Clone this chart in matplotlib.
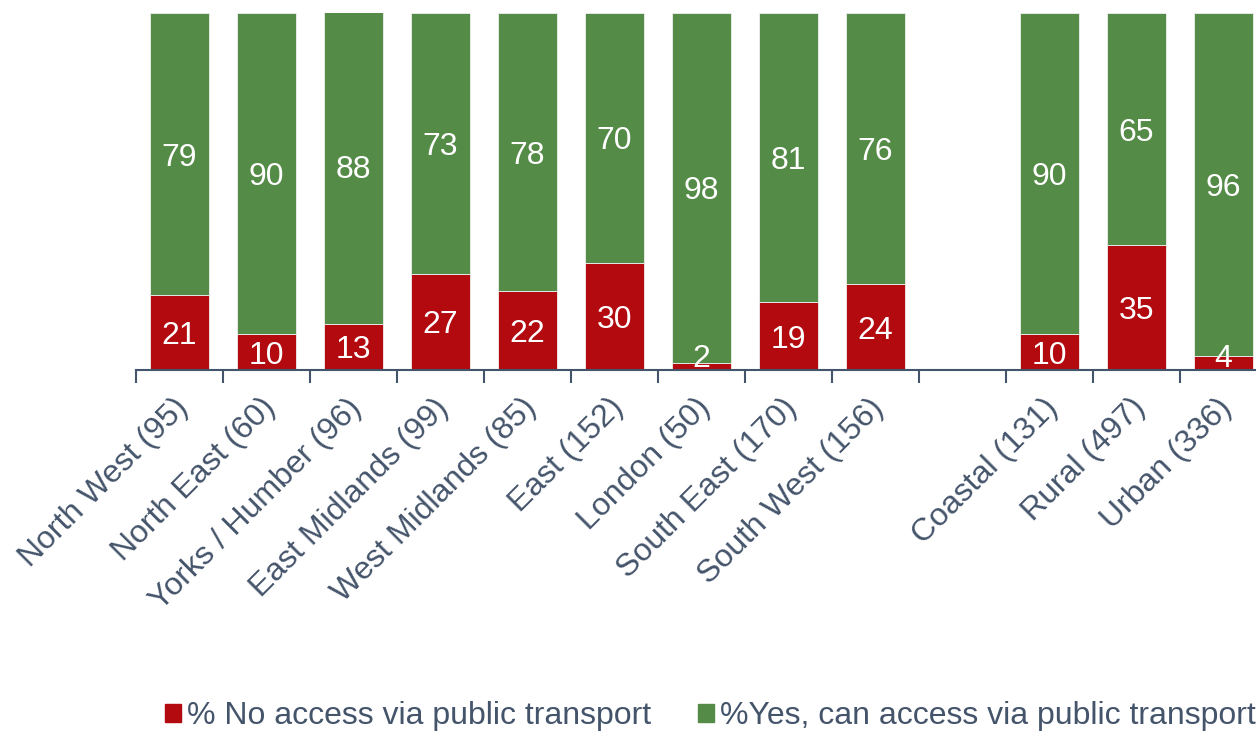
import matplotlib.pyplot as plt
import matplotlib.transforms as mtransforms
from matplotlib.patches import Patch

plt.rcParams['font.family'] = ['Liberation Sans', 'DejaVu Sans']

regions = ['North West (95)', 'North East (60)', 'Yorks / Humber (96)', 'East Midlands (99)',
           'West Midlands (85)', 'East (152)', 'London (50)', 'South East (170)',
           'South West (156)', '', 'Coastal (131)', 'Rural (497)', 'Urban (336)']
no_access = [21, 10, 13, 27, 22, 30, 2, 19, 24, None, 10, 35, 4]
yes_access = [79, 90, 88, 73, 78, 70, 98, 81, 76, None, 90, 65, 96]

red = '#B20A0F'
green = '#548B46'
text_col = '#44546A'
fs = 23

fig = plt.figure(figsize=(12.56, 7.32), dpi=100)
ax = fig.add_axes([136 / 1256, 362 / 732, 1131 / 1256, 357 / 732])

for i, (n, y) in enumerate(zip(no_access, yes_access)):
    if n is None:
        continue
    ax.bar(i, n, width=0.67, color=red, edgecolor='#f0f0f0', linewidth=0.6)
    ax.bar(i, y, bottom=n, width=0.67, color=green, edgecolor='#f0f0f0', linewidth=0.6)
    ax.text(i, max(n / 2, 4), str(n), color='white', fontsize=fs, ha='center', va='center_baseline')
    ax.text(i, n + y / 2, str(y), color='white', fontsize=fs, ha='center', va='center_baseline')

ax.set_xlim(-0.5, 12.5)
ax.set_ylim(0, 100)
for s in ['top', 'right', 'left']:
    ax.spines[s].set_visible(False)
ax.spines['bottom'].set_color(text_col)
ax.spines['bottom'].set_linewidth(1.5)
ax.set_yticks([])

ax.set_xticks(range(len(regions)))
ax.set_xticklabels(regions, rotation=45, ha='right', va='center', rotation_mode='anchor',
                   fontsize=fs, color=text_col)
ax.tick_params(axis='x', which='major', length=0, pad=24)
shift = mtransforms.ScaledTranslation(4 / 100, 0, fig.dpi_scale_trans)
for lab in ax.get_xticklabels():
    lab.set_transform(lab.get_transform() + shift)
ax.set_xticks([i - 0.5 for i in range(len(regions) + 1)], minor=True)
ax.tick_params(axis='x', which='minor', length=9, width=1.5, color=text_col)

handles = [Patch(color=red, label='% No access via public transport'),
           Patch(color=green, label='%Yes, can access via public transport')]
fig.legend(handles=handles, loc='center left', bbox_to_anchor=(149 / 1256, 1 - 716 / 732),
           ncol=2, frameon=False, fontsize=fs, handlelength=0.5, handleheight=0.5,
           handletextpad=0.2, columnspacing=1.45, labelcolor=text_col, borderpad=0)

fig.savefig('out.png', dpi=100)
